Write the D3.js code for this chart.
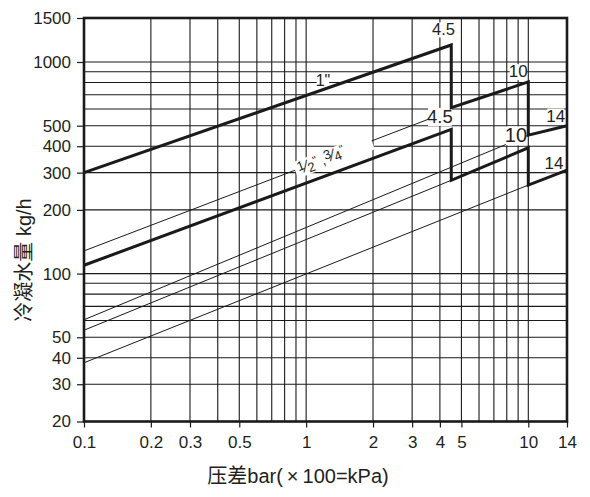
<!DOCTYPE html>
<html>
<head>
<meta charset="utf-8">
<title>冷凝水量</title>
<script src="https://cdn.jsdelivr.net/npm/d3@7"></script>
<style>
  * { margin: 0; padding: 0; }
  body { background: #fff; }
  svg text { font-family: "Liberation Sans", Arial, "Noto Sans CJK SC", sans-serif; fill: #231f20; }
</style>
</head>
<body>
<div id="chart"></div>
<script>
// ticks and grid
var xTicks = [0.1, 0.2, 0.3, 0.5, 1, 2, 3, 4, 5, 10, 14];
var yTicks = [20, 30, 40, 50, 100, 200, 300, 400, 500, 1000, 1500];
var xGrid = [0.2, 0.3, 0.4, 0.5, 0.6, 0.7, 0.8, 0.9, 1, 2, 3, 4, 5, 6, 7, 8, 9, 10];
var yGrid = [30, 40, 50, 60, 70, 80, 90, 100, 200, 300, 400, 500, 600, 700, 800, 900, 1000];

// thick curves: [pressure bar, kg/h]
var size1 = [[0.1, 300], [4.5, 1170], [4.5, 608], [10, 805], [10, 451], [14, 500]];
var sizeHalf = [[0.1, 109.5], [4.5, 480], [4.5, 276], [10, 393], [10, 262], [14, 308]];

// thin extensions
var thin1 = [[0.1, 128], [4.5, 590]];
var thin2 = [[0.1, 60.5], [10, 451]];
var thin3 = [[0.1, 54], [4.5, 276]];
var thin4 = [[0.1, 37.9], [10, 262]];

// labels on the plot
var labels = [
  {t: '4.5', x: 4.15, y: 1350, fs: 16.5},
  {t: '10',  x: 9.0,  y: 900,  fs: 17},
  {t: '4.5', x: 4.0,  y: 553,  fs: 18.5},
  {t: '14',  x: 12.7, y: 555,  fs: 17},
  {t: '10',  x: 8.8,  y: 450,  fs: 20},
  {t: '14',  x: 12.5, y: 330,  fs: 17},
  {t: '1"',  x: 1.19, y: 822,  fs: 16}
];

var W = 590, H = 497;
var svg = d3.select('#chart').append('svg')
    .attr('width', W).attr('height', H);

var x = d3.scaleLog().domain([0.1, 10, 14]).range([84, 528.3, 567]);
var y = d3.scaleLog().domain([20, 1000, 1500]).range([421.5, 62, 18]);

var x0 = x(0.1), x1 = x(14), y0 = y(20), y1 = y(1500);

// grid
svg.append('g').selectAll('line').data(xGrid).enter().append('line')
    .attr('x1', function(d) { return x(d); }).attr('x2', function(d) { return x(d); })
    .attr('y1', y1).attr('y2', y0)
    .attr('stroke', '#1a1a1a').attr('stroke-width', 1.1);
svg.append('g').selectAll('line').data(yGrid).enter().append('line')
    .attr('y1', function(d) { return y(d); }).attr('y2', function(d) { return y(d); })
    .attr('x1', x0).attr('x2', x1)
    .attr('stroke', '#1a1a1a').attr('stroke-width', 1.1);

var line = d3.line()
    .x(function(d) { return x(d[0]); })
    .y(function(d) { return y(d[1]); });

// thin lines
svg.append('g').selectAll('path').data([thin1, thin2, thin3, thin4]).enter().append('path')
    .attr('d', line)
    .attr('fill', 'none').attr('stroke', '#1a1a1a').attr('stroke-width', 1);

// white boxes behind labels go here (below the thick lines)
var boxes = svg.append('g');

// thick lines
svg.append('g').selectAll('path').data([size1, sizeHalf]).enter().append('path')
    .attr('d', line)
    .attr('fill', 'none').attr('stroke', '#1a1a1a').attr('stroke-width', 3)
    .attr('stroke-linejoin', 'miter');

// frame
svg.append('rect')
    .attr('x', x0).attr('y', y1).attr('width', x1 - x0).attr('height', y0 - y1)
    .attr('fill', 'none').attr('stroke', '#1a1a1a').attr('stroke-width', 2.6);

// axes
var yAxis = d3.axisLeft(y).tickValues(yTicks).tickSize(7).tickPadding(6)
    .tickFormat(function(d) { return String(d); });
var gy = svg.append('g').attr('transform', 'translate(' + x0 + ',0)').call(yAxis);
gy.select('.domain').remove();
gy.selectAll('line').attr('stroke', '#1a1a1a').attr('stroke-width', 1.2);
gy.selectAll('text').attr('font-size', 17).attr('fill', '#231f20')
    .attr('font-family', '"Liberation Sans", Arial, sans-serif');

var xAxis = d3.axisBottom(x).tickValues(xTicks).tickSize(6).tickPadding(8)
    .tickFormat(function(d) { return String(d); });
var gx = svg.append('g').attr('transform', 'translate(0,' + y0 + ')').call(xAxis);
gx.select('.domain').remove();
gx.selectAll('line').attr('stroke', '#1a1a1a').attr('stroke-width', 1.2);
gx.selectAll('text').attr('font-size', 17).attr('fill', '#231f20')
    .attr('font-family', '"Liberation Sans", Arial, sans-serif');

// value labels
var texts = svg.append('g');
labels.forEach(function(l) {
  var t = texts.append('text')
      .attr('x', x(l.x)).attr('y', y(l.y))
      .attr('text-anchor', 'middle').attr('dominant-baseline', 'central')
      .attr('font-size', l.fs).text(l.t);
  var b = t.node().getBBox();
  boxes.append('rect')
      .attr('x', b.x + 1).attr('y', b.y + 2)
      .attr('width', b.width - 2).attr('height', b.height - 3)
      .attr('fill', '#fff');
});

// rotated size label on the thin line
var px = 333.5, py = 155.9, ang = -20.8;
boxes.append('rect')
    .attr('transform', 'translate(' + px + ',' + py + ') rotate(' + ang + ')')
    .attr('x', -41).attr('y', -8.5).attr('width', 82).attr('height', 17).attr('fill', '#fff');
var st = texts.append('text')
    .attr('transform', 'translate(' + px + ',' + py + ') rotate(' + ang + ')')
    .attr('x', -38).attr('y', 5);
var parts = [
  ['1', 13, -3], ['\u2044', 16, 3], ['2', 13, 2], ['"', 11, -6],
  [' ,', 14, 4], ['3', 13, -4], ['\u2044', 16, 3], ['4', 13, 2], ['"', 11, -6]
];
parts.forEach(function(p) {
  st.append('tspan').attr('font-size', p[1]).attr('dy', p[2]).text(p[0]);
});

// axis titles
svg.append('text')
    .attr('transform', 'translate(24,260) rotate(-90)')
    .attr('text-anchor', 'middle').attr('dominant-baseline', 'central')
    .attr('font-size', 20).text('冷凝水量 kg/h');

svg.append('text')
    .attr('x', 298).attr('y', 483)
    .attr('text-anchor', 'middle')
    .attr('font-size', 20).text('压差bar(\u2009×\u2009100=kPa)');
</script>
</body>
</html>
